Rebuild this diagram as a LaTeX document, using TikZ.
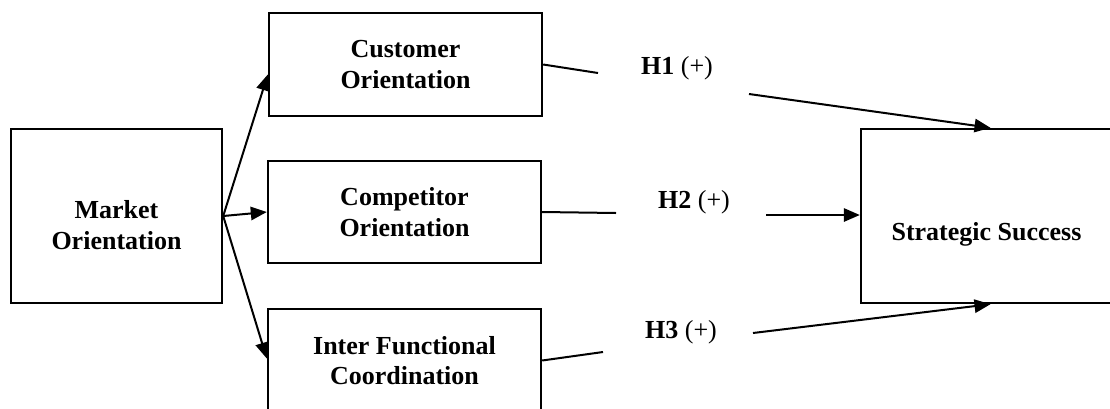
\documentclass[tikz,border=0pt]{standalone}
\usepackage{fontspec}
\setmainfont{Liberation Serif}
\usetikzlibrary{arrows.meta,calc}

\tikzset{
  varbox/.style={draw, line width=1.8pt, align=center, inner sep=0pt,
    font=\bfseries\fontsize{19.5}{23}\selectfont},
  link/.style={line width=1.5pt},
  effect/.style={link, -{Triangle[length=12pt,width=10pt]}},
  hyp/.style={inner sep=0.75pt, font=\fontsize{19.5}{23}\selectfont}
}

\begin{document}
\begin{tikzpicture}[x=0.75pt,y=0.75pt,yscale=-1,xscale=1]
\useasboundingbox (0,0) rectangle (1110,408);
\clip (0,0) rectangle (1110,408);

%Shape: Rectangle [market orientation]
\node [varbox, minimum width=158.25pt, minimum height=130.5pt, text height=50.5pt] (mo) at (116.5,216) {Market\\Orientation};
%Shape: Rectangle [dimensions]
\node [varbox, minimum width=204.75pt, minimum height=77.25pt] (cust) at (405.5,64.5) {Customer\\Orientation};
\node [varbox, minimum width=204.75pt, minimum height=76.5pt] (comp) at (404.5,212) {Competitor\\Orientation};
\node [varbox, minimum width=204.75pt, minimum height=77.25pt] (inter) at (404.5,360.5) {Inter Functional\\Coordination};
%Shape: Rectangle [outcome]
\node [varbox, minimum width=188.25pt, minimum height=130.5pt, text height=41pt] (ss) at (986.5,216) {Strategic Success};

%Straight Lines [market orientation to its dimensions]
\draw [effect] (mo.east) -- ($(cust.west)+(0,10)$);
\draw [effect] (mo.east) -- (comp.west);
\draw [effect] (mo.east) -- ($(inter.west)+(0,-2)$);

% gaps left open for the hypothesis labels
\coordinate (h1a) at (598,73);
\coordinate (h1b) at (749,94);
\coordinate (h2a) at (616,213);
\coordinate (h2b) at (766,215);
\coordinate (h3a) at (603,352);
\coordinate (h3b) at (753,333);

%Straight Lines [hypotheses]
\draw [link] (cust.east) -- (h1a);
\draw [effect] (h1b) -- ($(ss.north)+(4,0)$);
\draw [link] (comp.east) -- (h2a);
\draw [effect] (h2b) -- ($(ss.west)+(0,-1)$);
\draw [link] (inter.east) -- (h3a);
\draw [effect] (h3b) -- ($(ss.south)+(4,0)$);

% Text Node
\node [hyp] (h1) at (677,68) {\textbf{H1} (+)};
% Text Node
\node [hyp] (h2) at (694,202) {\textbf{H2} (+)};
% Text Node
\node [hyp] (h3) at (681,332) {\textbf{H3} (+)};

\end{tikzpicture}
\end{document}
